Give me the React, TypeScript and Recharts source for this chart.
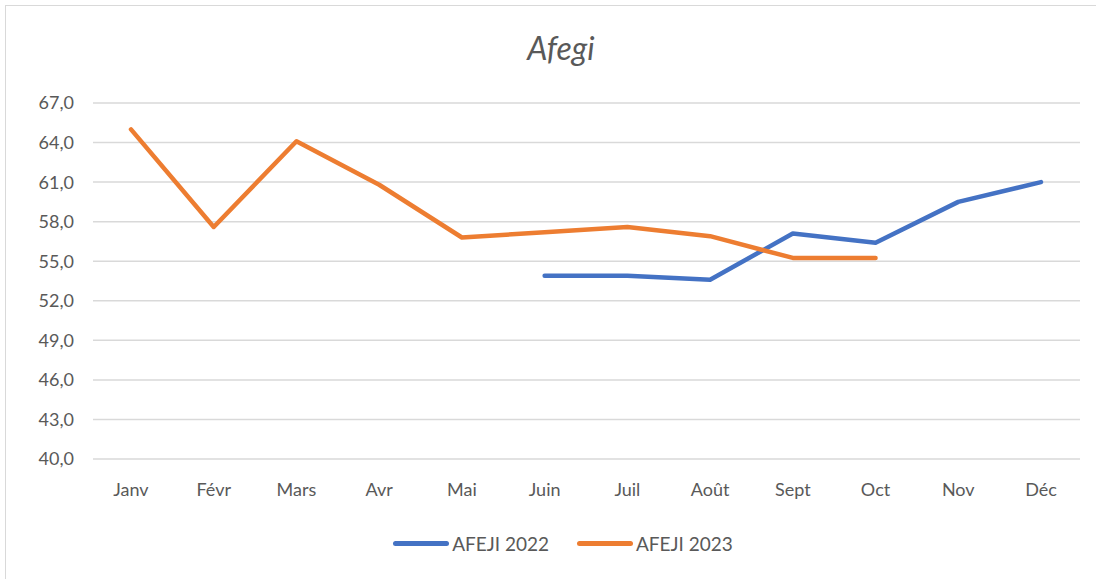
import { LineChart, Line, XAxis, YAxis, CartesianGrid, Legend } from "recharts"

const MONTHS = ["Janv", "Févr", "Mars", "Avr", "Mai", "Juin", "Juil", "Août", "Sept", "Oct", "Nov", "Déc"]
const AFEJI_2022 = [null, null, null, null, null, 53.9, 53.9, 53.6, 57.1, 56.4, 59.5, 61.0]
const AFEJI_2023 = [65.0, 57.6, 64.1, 60.8, 56.8, 57.2, 57.6, 56.9, 55.25, 55.25, null, null]
const Y_TICKS = [40, 43, 46, 49, 52, 55, 58, 61, 64, 67]

const SERIES = [
    { key: "a2022", name: "AFEJI 2022", color: "#4472C4" },
    { key: "a2023", name: "AFEJI 2023", color: "#ED7D31" },
]

const data = MONTHS.map((m, i) => ({ month: m, a2022: AFEJI_2022[i], a2023: AFEJI_2023[i] }))

const FONT = "Lato, 'Open Sans', sans-serif"
const GREY = "#595959"

// legend drawn by hand so the line icons look like Excel's
const LegendContent = () => (
    <div style={{ display: "flex", justifyContent: "center", gap: 28, fontFamily: FONT, fontSize: 19, color: GREY }}>
        {SERIES.map((s) => (
            <div key={s.key} style={{ display: "flex", alignItems: "center" }}>
                <span style={{ display: "inline-block", width: 56, height: 5, borderRadius: 3, background: s.color, marginRight: 3 }} />
                <span>{s.name}</span>
            </div>
        ))}
    </div>
)

export default function App() {
    return (
        <div style={{ position: "absolute", left: 0, top: 0, width: 1096, height: 579, background: "#fff", overflow: "hidden" }}>
            <div style={{ position: "absolute", left: 5, top: 5, width: 1200, height: 700, border: "1.5px solid #d9d9d9", boxSizing: "border-box" }} />
            <div style={{ position: "absolute", left: 0, width: 1122, top: 28, textAlign: "center", fontFamily: FONT, fontStyle: "italic", fontSize: 32, color: GREY }}>
                Afegi
            </div>
            <LineChart width={1096} height={579} data={data} margin={{ top: 103, right: 16, left: 0, bottom: 67 }} style={{ position: "absolute", left: 0, top: 0 }}>
                <CartesianGrid vertical={false} stroke="#d9d9d9" strokeWidth={1.5} />
                <XAxis
                    dataKey="month"
                    axisLine={false}
                    tickLine={false}
                    tickMargin={18}
                    interval={0}
                    padding={{ left: 38, right: 39 }}
                    tick={{ fill: GREY, fontSize: 18, fontFamily: FONT }}
                />
                <YAxis
                    domain={[40, 67]}
                    ticks={Y_TICKS}
                    axisLine={false}
                    tickLine={false}
                    width={93}
                    tickMargin={13}
                    tickFormatter={(v) => v.toFixed(1).replace(".", ",")}
                    tick={{ fill: GREY, fontSize: 18, fontFamily: FONT }}
                />
                <Legend
                    content={<LegendContent />}
                    wrapperStyle={{ position: "absolute", top: 532, left: 0, width: 1126, bottom: "auto" }}
                />
                {SERIES.map((s) => (
                    <Line
                        key={s.key}
                        type="linear"
                        dataKey={s.key}
                        name={s.name}
                        stroke={s.color}
                        strokeWidth={4.5}
                        strokeLinecap="round"
                        strokeLinejoin="round"
                        dot={false}
                        activeDot={false}
                        connectNulls={false}
                        isAnimationActive={false}
                    />
                ))}
            </LineChart>
        </div>
    )
}
